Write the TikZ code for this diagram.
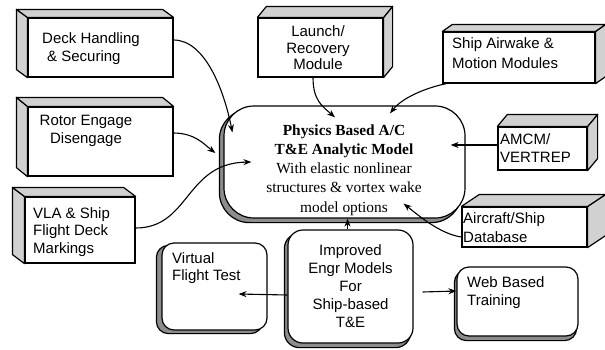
\documentclass[tikz,border=0pt]{standalone}
\usepackage{fontspec}
\setmainfont{Liberation Serif}
\setsansfont{Liberation Sans}
\usetikzlibrary{arrows.meta,backgrounds}
\newcommand\extrudeL[3]{%
  \draw[face] (#1.north west) -- (#1.south west) -- ++(#2,#3) -- ([shift={(#2,#3)}]#1.north west) -- cycle;
  \draw[face] (#1.north west) -- (#1.north east) -- ++(#2,#3) -- ([shift={(#2,#3)}]#1.north west) -- cycle;}
\newcommand\extrudeR[3]{%
  \draw[face] (#1.north east) -- (#1.south east) -- ++(#2,#3) -- ([shift={(#2,#3)}]#1.north east) -- cycle;
  \draw[face] (#1.north west) -- (#1.north east) -- ++(#2,#3) -- ([shift={(#2,#3)}]#1.north west) -- cycle;}
\begin{document}
\begin{tikzpicture}[x=1pt,y=-1pt,
  front/.style={draw, line width=1.2pt, fill=white, inner sep=0pt},
  face/.style={draw, line width=1.2pt, fill=black!18, line join=round},
  rbox/.style={draw, line width=1.2pt, fill=white, rounded corners=#1, inner sep=0pt},
  shade/.style={draw, line width=1.2pt, fill=black!45, rounded corners=#1},
  lbl/.style={font=\sffamily\fontsize{15}{18}\selectfont, inner sep=0pt},
  serif/.style={font=\fontsize{15.4}{19.2}\selectfont, inner sep=0pt, align=center},
  arr/.style={line width=1.1pt, -{Stealth[length=8pt,width=6pt]}},
]
\useasboundingbox (0,0) rectangle (605,349);

% 3D boxes
\node[front, minimum width=145pt, minimum height=59pt] (deck) at (100.5,47.5) {};
\extrudeL{deck}{-11}{-8}
\node[lbl, anchor=west, align=left] (deckt) at (42,49) {Deck Handling\\\hspace{5pt}\& Securing};

\node[front, minimum width=145pt, minimum height=69pt] (rotor) at (100.5,141.5) {};
\extrudeL{rotor}{-11}{-9}
\node[lbl, align=center] (rotort) at (86,131) {Rotor Engage\\Disengage};

\node[front, minimum width=110pt, minimum height=66pt] (vla) at (80,230) {};
\extrudeL{vla}{-12}{-9}
\node[lbl, anchor=west, align=left, font=\sffamily\fontsize{15}{17.5}\selectfont] (vlat) at (33,232) {VLA \& Ship\\Flight Deck\\Markings};

\node[front, minimum width=125pt, minimum height=59pt] (launch) at (320.5,47.5) {};
\extrudeR{launch}{9}{-11}
\node[lbl, align=center, font=\sffamily\fontsize{15}{16.5}\selectfont] (launcht) at (318,48) {Launch/\\Recovery\\Module};

\node[front, minimum width=152pt, minimum height=51pt] (airwake) at (519,57.5) {};
\extrudeR{airwake}{10}{-7}
\node[lbl, anchor=west, align=left, font=\sffamily\fontsize{15}{20}\selectfont] (airwaket) at (452,53) {Ship Airwake \&\\Motion Modules};

\node[front, minimum width=89pt, minimum height=43pt] (amcm) at (542.5,148.5) {};
\extrudeR{amcm}{10}{-12}
\node[lbl, anchor=west, align=left] (amcmt) at (500,148) {AMCM/\\VERTREP};

\node[front, minimum width=125pt, minimum height=40pt] (aircraft) at (524.5,227) {};
\extrudeR{aircraft}{18}{-12}
\node[lbl, anchor=west, align=left, font=\sffamily\fontsize{15}{19}\selectfont] (aircraftt) at (463,228) {Aircraft/Ship\\Database};

% central model
\node[rbox=30pt, minimum width=241pt, minimum height=112pt] (central) at (344.5,162) {};
\node[serif] (centralt) at (344,170) {\textbf{Physics Based A/C}\\\textbf{T\&E Analytic Model}\\With elastic nonlinear\\structures \& vortex wake\\model options};

% bottom row
\node[rbox=12pt, minimum width=105pt, minimum height=87pt] (virtual) at (214.5,286.5) {};
\node[lbl, anchor=west, align=left, font=\sffamily\fontsize{15}{17}\selectfont] (virtualt) at (172,268) {Virtual\\Flight Test};

\node[rbox=15pt, minimum width=125pt, minimum height=113pt, lbl, align=center] (improved) at (350.5,286.5) {Improved\\Engr Models\\For\\Ship-based\\T\&E};

\node[rbox=12pt, minimum width=121pt, minimum height=69pt] (web) at (517.5,301.5) {};
\node[lbl, anchor=west, align=left] (webt) at (467,293) {Web Based\\Training};

% shadows
\begin{scope}[on background layer]
  \draw[shade=30pt] ([shift={(-4,4)}]central.north west) rectangle ([shift={(-4,4)}]central.south east);
  \draw[shade=12pt] ([shift={(-5,3)}]virtual.north west) rectangle ([shift={(-5,3)}]virtual.south east);
  \draw[shade=15pt] ([shift={(-3,4)}]improved.north west) rectangle ([shift={(-3,4)}]improved.south east);
  \draw[shade=12pt] ([shift={(-2,4)}]web.north west) rectangle ([shift={(-2,4)}]web.south east);
\end{scope}

% connectors
\draw[arr] ([shift={(0,-7.5)}]deck.east) .. controls (205,40) and (224,90) .. ([shift={(9,27)}]central.north west);
\draw[arr] ([shift={(0,-8.5)}]rotor.east) .. controls (195,133) and (205,145) .. ([shift={(-8,-9)}]central.west);
\draw[arr] ([shift={(0,-2)}]vla.east) .. controls (190,228) and (185,163) .. ([shift={(28,0)}]central.west);
\draw[arr] ([shift={(-7.5,0)}]launch.south) .. controls (313,100) and (322,106) .. ([shift={(-9.5,12)}]central.north);
\draw[arr] ([shift={(4,0)}]airwake.south west) .. controls (425,88) and (402,98) .. ([shift={(45.5,8)}]central.north);
\draw[arr] ([shift={(0,-3.5)}]amcm.west) -- ([shift={(-15,-17)}]central.east);
\draw[arr] ([shift={(0,10)}]aircraft.west) .. controls (440,234) and (418,215) .. ([shift={(-62,-15)}]central.south east);
\draw[arr] ([shift={(-3,0)}]improved.north) -- ([shift={(3,0)}]central.south);
\draw[arr] ([shift={(0,8.5)}]improved.west) -- ([shift={(-29,7.5)}]virtual.east);
\draw[arr] ([shift={(9,5.5)}]improved.east) -- ([shift={(0,-10.5)}]web.west);
\end{tikzpicture}
\end{document}
